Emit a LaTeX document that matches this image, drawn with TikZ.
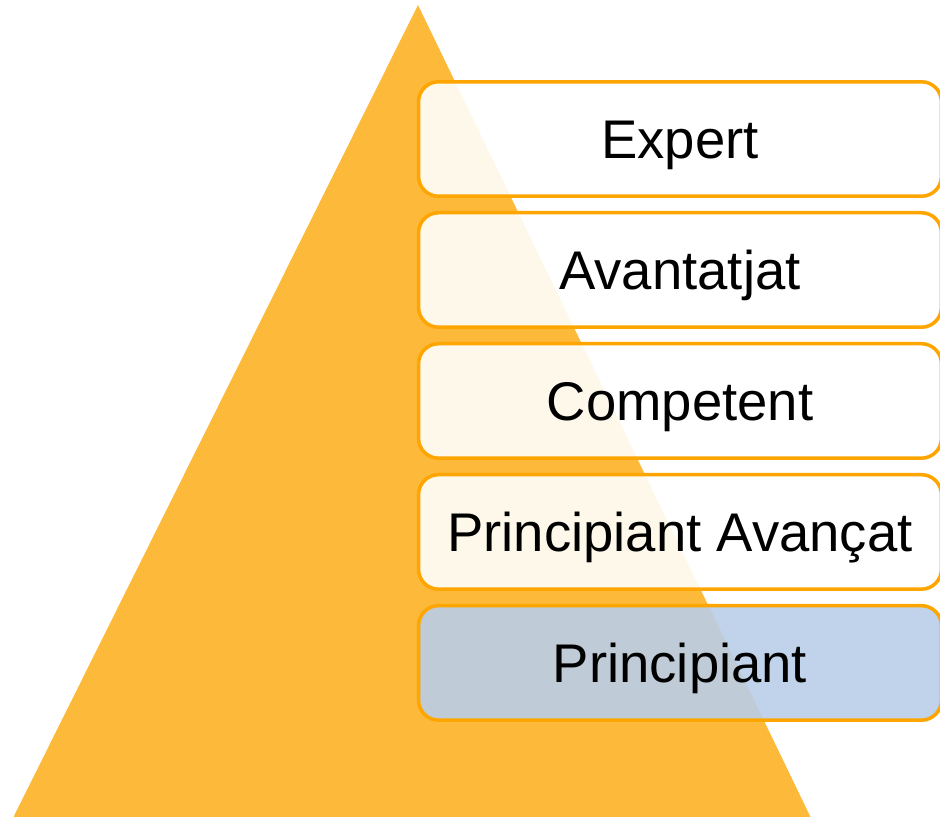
\documentclass[tikz,border=0pt]{standalone}
\usepackage{fontspec}
\setmainfont{Liberation Sans}
\usepackage{tikz}
\usetikzlibrary{positioning}

\definecolor{pyramid}{RGB}{253,185,58}
\definecolor{rim}{RGB}{255,165,0}
\definecolor{novice}{RGB}{185,206,232}

\begin{document}
\begin{tikzpicture}[x=0.02cm, y=-0.02cm,
		level/.style={draw=rim, line width=0.07cm, rounded corners=0.4cm, fill=white, fill opacity=0.9, text opacity=1,
			minimum width=10.46cm, minimum height=2.29cm, text height=22pt, text depth=0pt,
			font=\fontsize{31}{37}\selectfont}]
		\useasboundingbox (0,0) rectangle (940,816);
		\clip (0,0) rectangle (940,816);
		\fill[pyramid] (418,5) -- (811,818) -- (13,818) -- cycle;
		\node[level] (expert) at (680,139) {Expert};
		\node[level, below=0.26cm of expert] (avantatjat) {Avantatjat};
		\node[level, below=0.26cm of avantatjat] (competent) {Competent};
		\node[level, below=0.26cm of competent] (avancat) {Principiant Avançat};
		\node[level, fill=novice, below=0.26cm of avancat] (principiant) {Principiant};
		\end{tikzpicture}
\end{document}
